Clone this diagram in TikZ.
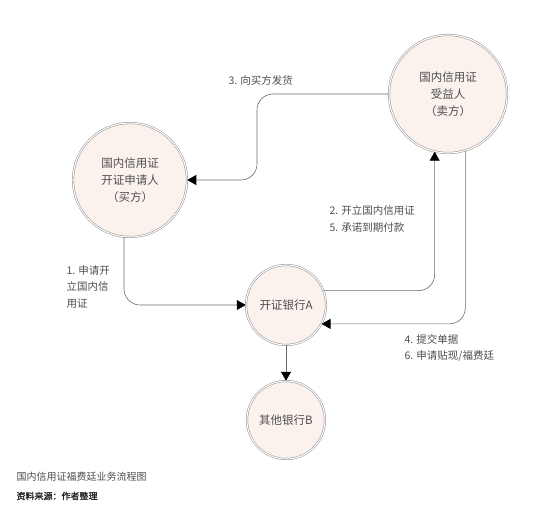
\documentclass[tikz,border=0pt]{standalone}
\usepackage{fontspec}
\setmainfont{Noto Sans CJK SC}
\newfontfamily\sourcefont[FakeBold=1.5]{Noto Sans CJK SC}
\usetikzlibrary{arrows.meta}
\definecolor{partyfill}{HTML}{FBF2EE}
\definecolor{linegray}{HTML}{6A6A6A}
\definecolor{textgray}{HTML}{4E4E4E}
\tikzset{
  party/.style={circle, draw=linegray!75, double=white, double distance=1.1pt, line width=0.5pt,
    fill=partyfill, align=center, text=textgray, font=\fontsize{11.5}{17}\selectfont},
  flow/.style={draw=linegray, line width=0.6pt, rounded corners=16pt,
    -{Triangle[length=9pt,width=10pt,color=black]}},
  note/.style={anchor=west, align=left, text=textgray, font=\fontsize{10.5}{16.5}\selectfont},
}
\begin{document}
\begin{tikzpicture}[x=1pt,y=-1pt]
    \useasboundingbox (0,0) rectangle (545,517);
    % the parties
    \node[party, minimum size=114pt] (buyer) at (130,180) {国内信用证\\开证申请人\\（买方）};
    \node[party, minimum size=118pt] (seller) at (448,94) {国内信用证\\受益人\\（卖方）};
    \node[party, minimum size=80pt] (bankA) at (286,305) {开证银行A};
    \node[party, minimum size=78pt] (bankB) at (286,420) {其他银行B};

    % the flows between them
    \coordinate (turn) at (257,136);
    \draw[flow] (buyer.-96) |- (bankA.west);
    \draw[flow] (bankA.21) -| (seller.-103);
    \draw[flow] (seller.west) -| (turn) |- (buyer.east);
    \draw[flow] (seller.-73) |- (bankA.-28);
    \draw[flow, rounded corners=0pt] (bankA) -- (bankB);

    % step labels
    \node[note] (step1) at (63,287) {1. 申请开\\立国内信\\用证};
    \node[note] (step2) at (326,219) {2. 开立国内信用证\\5. 承诺到期付款};
    \node[note] (step3) at (225,80) {3. 向买方发货};
    \node[note] (step4) at (401,348) {4. 提交单据\\6. 申请贴现/福费廷};

    % caption
    \node[anchor=west, text=textgray, font=\fontsize{10}{12}\selectfont] (title) at (13,477) {国内信用证福费廷业务流程图};
    \node[anchor=west, text=black!85, font=\sourcefont\fontsize{9}{11}\selectfont] (source) at (13,496) {资料来源：作者整理};
\end{tikzpicture}
\end{document}
